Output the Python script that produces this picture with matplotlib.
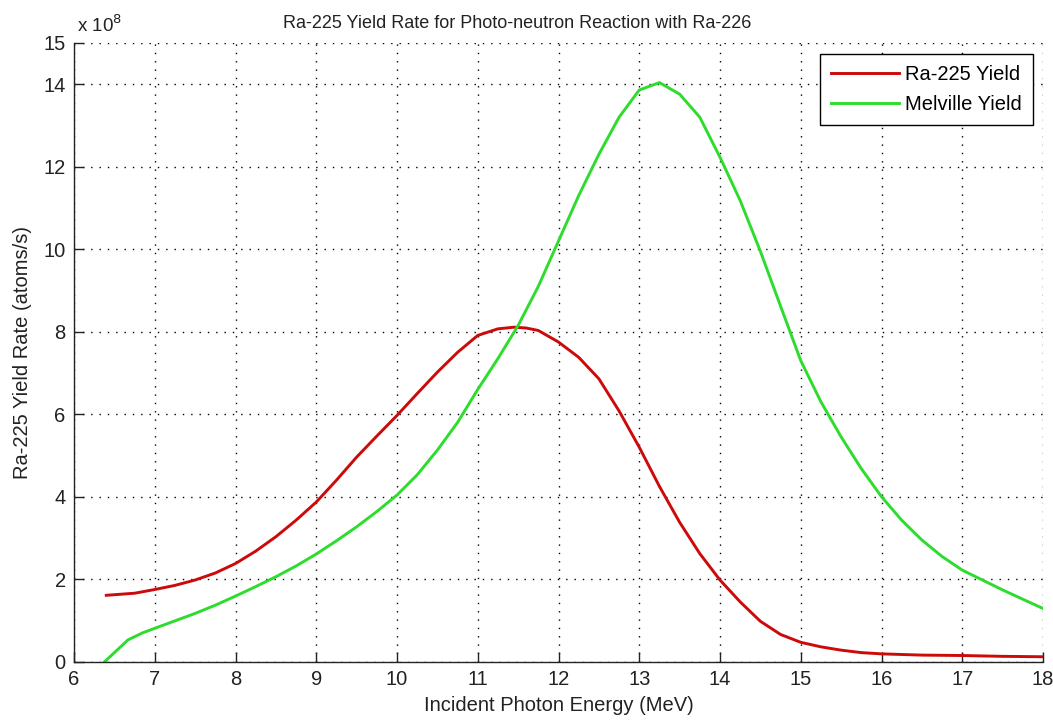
import matplotlib
matplotlib.use("Agg")
import matplotlib.pyplot as plt

# Data (yield rate in units of 1e8 atoms/s)
ra225_energy = [6.4, 6.75, 7.0, 7.25, 7.5, 7.75, 8.0, 8.25, 8.5, 8.75, 9.0, 9.25, 9.5, 9.75,
                10.0, 10.25, 10.5, 10.75, 11.0, 11.25, 11.45, 11.6, 11.75, 12.0, 12.25,
                12.5, 12.75, 13.0, 13.25, 13.5, 13.75, 14.0, 14.25, 14.5, 14.75, 15.0,
                15.25, 15.5, 15.75, 16.0, 16.5, 17.0, 17.5, 18.0]
ra225_yield = [1.61, 1.66, 1.75, 1.85, 1.98, 2.15, 2.38, 2.68, 3.03, 3.43, 3.87, 4.4, 4.96, 5.47,
               5.97, 6.5, 7.02, 7.5, 7.91, 8.07, 8.11, 8.09, 8.03, 7.75, 7.38,
               6.86, 6.08, 5.2, 4.25, 3.38, 2.62, 1.98, 1.45, 0.98, 0.66, 0.47,
               0.36, 0.28, 0.22, 0.19, 0.16, 0.15, 0.13, 0.12]

melville_energy = [6.38, 6.5, 6.67, 6.85, 7.0, 7.25, 7.5, 7.75, 8.0, 8.25, 8.5, 8.75, 9.0,
                   9.25, 9.5, 9.75, 10.0, 10.25, 10.5, 10.75, 11.0, 11.25, 11.5, 11.75,
                   12.0, 12.25, 12.5, 12.75, 13.0, 13.25, 13.5, 13.75, 14.0, 14.25, 14.5,
                   14.75, 15.0, 15.25, 15.5, 15.75, 16.0, 16.25, 16.5, 16.75, 17.0, 17.5, 18.0]
melville_yield = [0.0, 0.22, 0.53, 0.7, 0.81, 0.99, 1.17, 1.37, 1.59, 1.82, 2.06, 2.32, 2.61,
                  2.93, 3.27, 3.64, 4.04, 4.53, 5.13, 5.8, 6.6, 7.35, 8.15, 9.1,
                  10.2, 11.3, 12.3, 13.2, 13.86, 14.04, 13.76, 13.2, 12.23, 11.18, 9.95,
                  8.62, 7.3, 6.3, 5.45, 4.68, 4.0, 3.43, 2.95, 2.55, 2.22, 1.74, 1.29]

x_ticks = [6, 7, 8, 9, 10, 11, 12, 13, 14, 15, 16, 17, 18]
y_ticks = [0, 2, 4, 6, 8, 10, 12, 14, 15]

title = "Ra-225 Yield Rate for Photo-neutron Reaction with Ra-226"
xlabel = "Incident Photon Energy (MeV)"
ylabel = "Ra-225 Yield Rate (atoms/s)"
labels = ["Ra-225 Yield", "Melville Yield"]

plt.rcParams['font.family'] = ['Liberation Sans', 'DejaVu Sans']

fig = plt.figure(figsize=(10.53, 7.21), dpi=100)
ax = fig.add_axes([74/1053, 1 - 661.7/721, (1043-74)/1053, (661.7-43)/721])

ax.plot(ra225_energy, ra225_yield, color='#cc0a0a', lw=2.1, label=labels[0])
ax.plot(melville_energy, melville_yield, color='#2ddc2d', lw=2.1, label=labels[1])

ax.set_xlim(6, 18)
ax.set_ylim(0, 15)
ax.set_xticks(x_ticks)
ax.set_yticks(y_ticks)
ax.set_xticklabels([str(t) for t in x_ticks])
ax.set_yticklabels([str(t) for t in y_ticks])

ax.grid(True, color='black', linestyle=(0, (1, 5)), linewidth=1.0)
ax.set_axisbelow(True)

for s in ['top', 'right']:
    ax.spines[s].set_visible(False)
for s in ['left', 'bottom']:
    ax.spines[s].set_color('#222222')
    ax.spines[s].set_linewidth(1.0)

ax.tick_params(direction='in', length=7, width=1.0, colors='#222222',
               labelsize=14.5, pad=6, labelcolor='#222222')

ax.set_title(title, fontsize=13, color='#222222', pad=11, x=(517-74)/969)
ax.set_xlabel(xlabel, fontsize=14.5, color='#222222', labelpad=5)
ax.set_ylabel(ylabel, fontsize=14.5, color='#222222', labelpad=8)

ax.text(0.003, 1.012, r"x 10$^{8}$", transform=ax.transAxes, fontsize=13.5,
        color='#222222', ha='left', va='bottom')

leg = ax.legend(loc='upper right', bbox_to_anchor=(1033/1053, 1 - 54/721),
                bbox_transform=fig.transFigure, fontsize=14.5, frameon=True,
                fancybox=False, framealpha=1, edgecolor='black',
                handlelength=3.4, borderpad=0.55, labelspacing=0.55,
                handletextpad=0.3, borderaxespad=0)
leg.get_frame().set_linewidth(1.0)

fig.savefig("out.png", dpi=100)
